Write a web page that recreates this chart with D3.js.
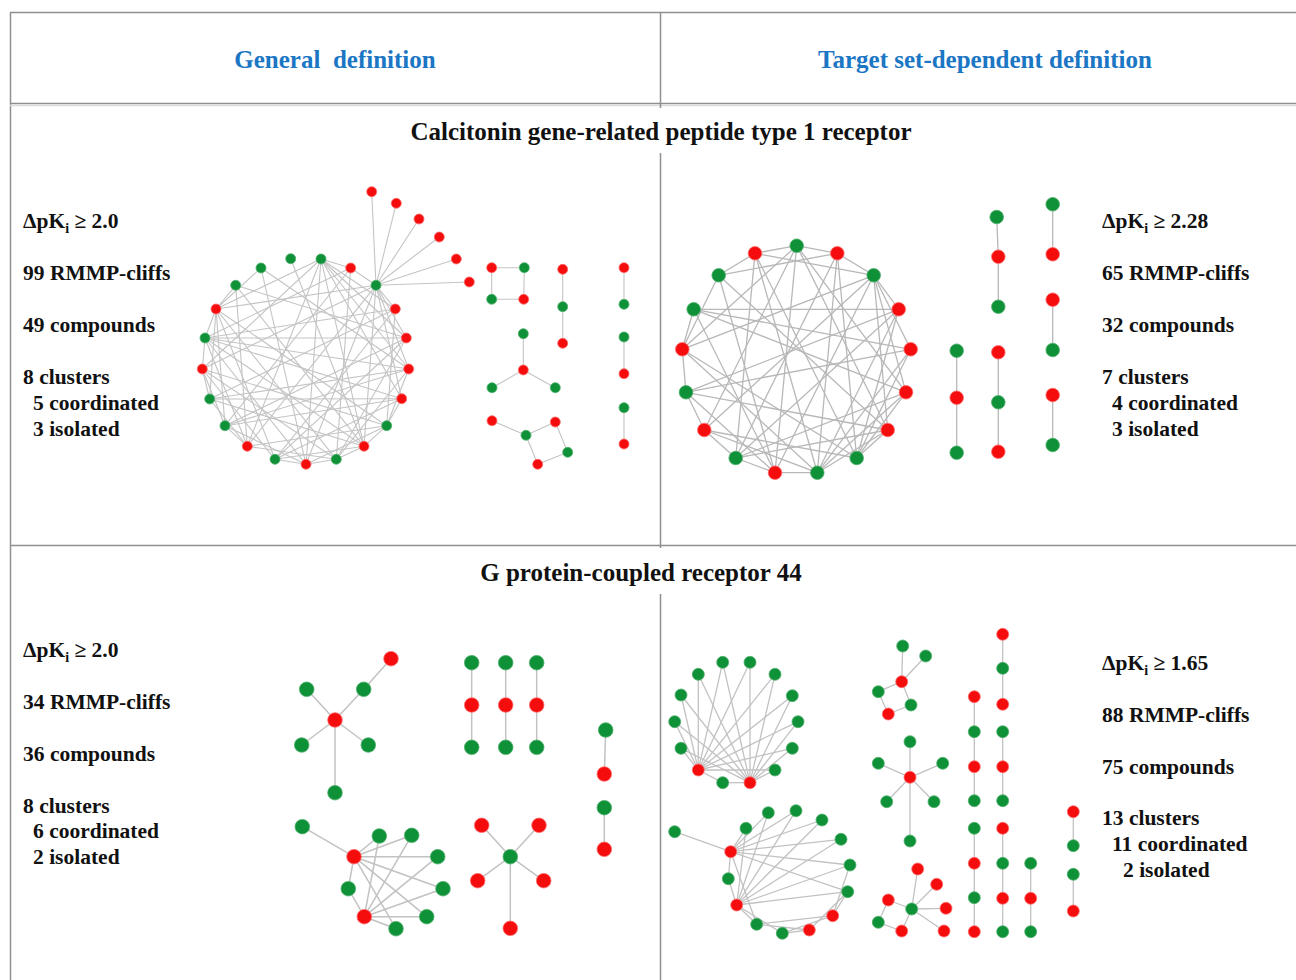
<!DOCTYPE html>
<html>
<head>
<meta charset="utf-8">
<script src="https://cdn.jsdelivr.net/npm/d3@7"></script>
<style>
body { margin: 0; background: #fff; }
text { font-family: "Liberation Serif", "Times New Roman", serif; font-weight: bold; }
</style>
</head>
<body>
<script>
// column headers and target titles
var headers = ["General  definition", "Target set-dependent definition"]
var targets = ["Calcitonin gene-related peptide type 1 receptor", "G protein-coupled receptor 44"]

// stats text per panel: threshold, cliffs, compounds, clusters, coordinated, isolated
var statsCgrpGen = ["2.0", "99 RMMP-cliffs", "49 compounds", "8 clusters", "5 coordinated", "3 isolated"]
var statsCgrpTsd = ["2.28", "65 RMMP-cliffs", "32 compounds", "7 clusters", "4 coordinated", "3 isolated"]
var statsGpr44Gen = ["2.0", "34 RMMP-cliffs", "36 compounds", "8 clusters", "6 coordinated", "2 isolated"]
var statsGpr44Tsd = ["1.65", "88 RMMP-cliffs", "75 compounds", "13 clusters", "11 coordinated", "2 isolated"]

// network layouts: [x, y, potency class] in layout units of each panel
var nodesCgrpGen = [
  [131,79,"G"],[160.7,88,"R"],[186,105.3,"G"],[205.3,129,"R"],[216.3,158,"R"],[218.7,189,"R"],
  [211.7,218.7,"R"],[196.7,245.7,"G"],[174,266.3,"R"],[146.3,279.3,"G"],[116,284.3,"R"],[85,279.3,"G"],
  [57.3,266.3,"R"],[35,245.7,"G"],[19.7,219,"G"],[12.3,189,"R"],[15,158,"G"],[26,129,"R"],
  [45.7,105.3,"G"],[71,88,"G"],[100.7,78.7,"G"],
  [181.7,11.7,"R"],[206.3,23.3,"R"],[229,39,"R"],[249.3,57,"R"],[266.3,79,"R"],[279.3,102,"R"],
  [301.7,87.7,"R"],[334.3,87.7,"G"],[301.7,119.3,"G"],[333.7,119.3,"R"],
  [372.7,89.3,"R"],[372.7,126.7,"G"],[372.7,163.3,"R"],
  [333.3,153.7,"G"],[333.3,190,"R"],[302,207.7,"G"],[365.3,207.7,"G"],
  [302,240.7,"R"],[336,255.3,"G"],[365.3,242,"R"],[377.7,272.3,"G"],[347.7,284.3,"R"],
  [434,87.7,"R"],[434,124.3,"G"],[434,157,"G"],[434,193.7,"R"],[434,227.7,"G"],[434,264,"R"]
]
var edgesCgrpGen = [
  [2,21],[2,22],[2,23],[2,24],[2,25],[2,26],
  [17,0],[17,2],[17,7],[17,9],[17,11],[17,13],[17,14],[17,16],[17,18],[17,19],
  [15,0],[15,2],[15,7],[15,9],[15,11],[15,13],[15,14],[15,16],
  [12,0],[12,2],[12,7],[12,9],[12,13],[12,14],[12,16],[12,18],
  [10,0],[10,2],[10,7],[10,9],[10,11],[10,13],[10,16],[10,19],
  [8,0],[8,2],[8,7],[8,9],[8,11],[8,14],[8,16],[8,18],[8,20],
  [6,0],[6,2],[6,7],[6,11],[6,13],[6,14],[6,16],
  [5,0],[5,2],[5,7],[5,9],[5,13],[5,14],[5,16],[5,19],
  [4,0],[4,2],[4,9],[4,11],[4,13],[4,16],[4,18],
  [3,0],[3,2],[3,7],[3,11],[3,14],[3,16],
  [1,0],[1,2],[1,9],[1,13],[1,16],
  [27,28],[27,29],[28,30],[29,30],
  [31,32],[32,33],
  [34,35],[35,36],[35,37],
  [38,39],[39,40],[40,41],[41,42],[42,39],
  [43,44],[45,46],[47,48]
]

var nodesCgrpTsd = [
  [126.7,45.7,"G"],[167.3,53.3,"R"],[203.7,75.3,"G"],[228.7,109.3,"R"],[240.7,149.3,"R"],[236,192.3,"R"],
  [217.7,230,"R"],[186.7,258,"G"],[147.3,272.7,"G"],[105,272.7,"R"],[65.7,258,"G"],[34.3,230,"R"],
  [16,192.3,"G"],[12.3,149.3,"R"],[23.7,109.3,"G"],[48.7,75.3,"G"],[85,53.3,"R"],
  [286.7,150.7,"G"],[286.7,197.7,"R"],[286.7,252.7,"G"],
  [326.7,17,"G"],[328.3,56.7,"R"],[328.3,106.7,"G"],
  [328.3,152.3,"R"],[328.3,202.3,"G"],[328.3,251.7,"R"],
  [382.7,4.3,"G"],[382.7,54.3,"R"],[382.7,99.7,"R"],[382.7,150,"G"],[382.7,195,"R"],[382.7,245,"G"]
]
var edgesCgrpTsd = [
  [1,0],[1,2],[1,7],[1,8],[1,10],[1,15],
  [3,2],[3,7],[3,8],[3,10],[3,12],[3,14],
  [4,2],[4,7],[4,8],[4,12],[4,14],
  [5,0],[5,2],[5,7],[5,8],[5,10],[5,14],
  [6,0],[6,2],[6,7],[6,8],[6,10],[6,12],[6,15],
  [9,0],[9,2],[9,8],[9,10],[9,12],[9,14],[9,15],
  [11,0],[11,2],[11,7],[11,8],[11,10],[11,12],
  [13,0],[13,2],[13,7],[13,8],[13,12],[13,14],[13,15],
  [16,0],[16,2],[16,7],[16,8],[16,10],[16,15],
  [17,18],[18,19],[20,21],[21,22],[23,24],[24,25],[26,27],[28,29],[30,31]
]

var nodesGpr44Gen = [
  [101,8.7,"R"],[73.7,39.3,"G"],[16.7,39.3,"G"],[45,70,"R"],[11.7,95,"G"],[78.3,95,"G"],[45,142.7,"G"],
  [181.7,12.7,"G"],[181.7,55,"R"],[181.7,97.3,"G"],
  [215.7,12.7,"G"],[215.7,55,"R"],[215.7,97.3,"G"],
  [246.7,12.7,"G"],[246.7,55,"R"],[246.7,97.3,"G"],
  [315.7,80,"G"],[314.3,124,"R"],[314.3,157.7,"G"],[314.3,199.3,"R"],
  [191.7,175.3,"R"],[249,175.3,"R"],[220.3,206.7,"G"],[187.7,230.7,"R"],[253.7,230.7,"R"],[220.3,278.3,"R"],
  [12.3,176.7,"G"],[64,206.7,"R"],[89.3,186,"G"],[121.7,185.3,"G"],[147.7,206.7,"G"],
  [153,238.7,"G"],[136.7,266.7,"G"],[106,278.7,"G"],[74.3,266.7,"R"],[58.3,238.7,"G"]
]
var edgesGpr44Gen = [
  [0,1],[1,3],[2,3],[3,4],[3,5],[3,6],
  [7,8],[8,9],[10,11],[11,12],[13,14],[14,15],
  [16,17],[18,19],
  [22,20],[22,21],[22,23],[22,24],[22,25],
  [27,26],[27,28],[27,29],[27,30],[27,31],[27,32],[27,33],[27,35],
  [34,35],[34,28],[34,29],[34,30],[34,31],[34,32],[34,33]
]

var nodesGpr44Tsd = [
  [62.7,42.3,"G"],[90,42.3,"G"],[38.3,54.3,"G"],[115,54.3,"G"],[21,75,"G"],[132.3,75.7,"G"],
  [14.7,101.7,"G"],[138,101.7,"G"],[21,128.3,"G"],[132.3,128.3,"G"],[38.3,150,"R"],[115,150,"G"],
  [62.7,162.7,"G"],[90,162.7,"R"],
  [14.7,211.7,"G"],[70.7,231.7,"R"],[86,208.3,"G"],[108.3,192.7,"G"],[136,190.7,"G"],[162,200,"G"],
  [181,219.3,"G"],[190,245,"G"],[187.7,271.7,"G"],[172.7,295.7,"R"],[149.3,310,"R"],[122.3,313.3,"G"],
  [96.7,304.3,"G"],[76.7,285,"R"],[68.3,258.7,"G"],
  [242.7,26,"G"],[265.7,36,"G"],[241.7,61.7,"R"],[218.3,71.7,"G"],[251,85,"G"],[228.3,94,"R"],
  [250,121.7,"G"],[218.3,143.3,"G"],[250,157.3,"R"],[282.7,143.3,"G"],[226.7,181.7,"G"],[274,181.7,"G"],[250,221,"G"],
  [257.7,249,"R"],[276.7,264.3,"R"],[228.3,280,"R"],[251.7,289,"G"],[286,288.3,"R"],[218.3,302.3,"G"],
  [241.7,311,"R"],[284,311,"R"],
  [314.3,76.7,"R"],[314.3,111.7,"G"],[314.3,146.7,"R"],[314.3,180.7,"G"],
  [314.3,208.3,"G"],[314.3,243.3,"R"],[314.3,277.7,"G"],[314.3,311.7,"R"],
  [342.7,14.3,"R"],[342.7,48.3,"G"],[342.7,84.3,"R"],[342.7,111.7,"G"],[342.7,146.7,"R"],
  [342.7,180.7,"G"],[342.7,208.3,"R"],[342.7,243.3,"G"],[342.7,278.3,"R"],[342.7,311.7,"G"],
  [370.7,243.3,"G"],[370.7,278.3,"R"],[370.7,311.7,"G"],
  [413.3,191.7,"R"],[413.3,225.7,"G"],[413.3,254.3,"G"],[413.3,291,"R"]
]
var edgesGpr44Tsd = [
  [10,0],[10,1],[10,2],[10,3],[10,4],[10,5],[10,6],[10,7],[10,8],[10,9],[10,11],[10,12],
  [13,0],[13,1],[13,2],[13,3],[13,4],[13,5],[13,6],[13,7],[13,8],[13,9],[13,11],[13,12],
  [15,14],[15,16],[15,17],[15,18],[15,19],[15,20],[15,21],[15,22],[15,28],[15,26],
  [27,16],[27,17],[27,18],[27,19],[27,20],[27,21],[27,22],[27,28],[27,26],[27,25],
  [23,22],[23,21],[23,25],[23,26],
  [24,25],[24,22],[24,26],
  [29,31],[30,31],[31,32],[31,33],[32,34],[34,33],
  [37,35],[37,36],[37,38],[37,39],[37,40],[37,41],
  [45,42],[45,43],[45,44],[45,46],[45,48],[45,49],[44,47],[47,48],
  [50,51],[51,52],[52,53],[54,55],[55,56],[56,57],
  [58,59],[59,60],[61,62],[62,63],[64,65],[65,66],[66,67],
  [68,69],[69,70],
  [71,72],[73,74]
]

WIDTH = 1296
HEIGHT = 980
RED = "#f50c0c"
GREEN = "#0f9138"
FRAME = "#8f8f8f"

var panels = [
  {nodes: nodesCgrpGen, edges: edgesCgrpGen, ox: 190, oy: 180, r: 5, edge: "#c4c4c4", ew: 1.1,
   stats: statsCgrpGen, tx: 23, ty: 228, indent: [10, 10], gap: [0, 52, 104, 156, 182, 208]},
  {nodes: nodesCgrpTsd, edges: edgesCgrpTsd, ox: 670, oy: 200, r: 6.8, edge: "#b8b8b8", ew: 1.3,
   stats: statsCgrpTsd, tx: 1102, ty: 228, indent: [10, 10], gap: [0, 52, 104, 156, 182, 208]},
  {nodes: nodesGpr44Gen, edges: edgesGpr44Gen, ox: 290, oy: 650, r: 7.3, edge: "#c2c2c2", ew: 1.5,
   stats: statsGpr44Gen, tx: 23, ty: 657, indent: [10, 10], gap: [0, 52, 104, 156, 181, 207]},
  {nodes: nodesGpr44Tsd, edges: edgesGpr44Tsd, ox: 660, oy: 620, r: 6, edge: "#c2c2c2", ew: 1.3,
   stats: statsGpr44Tsd, tx: 1102, ty: 670, indent: [10, 21], gap: [0, 52, 104, 155, 181, 207]}
]

var svg = d3.select("body").append("svg")
  .attr("width", WIDTH)
  .attr("height", HEIGHT)

// table frame
var frame = svg.append("g").attr("stroke", FRAME).attr("stroke-width", 1.5)
frame.append("line").attr("x1", 10).attr("x2", WIDTH).attr("y1", 12.5).attr("y2", 12.5)
frame.append("line").attr("x1", 10.5).attr("x2", 10.5).attr("y1", 12).attr("y2", HEIGHT)
frame.append("line").attr("x1", 10).attr("x2", WIDTH).attr("y1", 103.5).attr("y2", 103.5)
frame.append("line").attr("x1", 10).attr("x2", WIDTH).attr("y1", 105.5).attr("y2", 105.5)
  .attr("stroke", "#dcdcdc").attr("stroke-width", 1.5)
frame.append("line").attr("x1", 10).attr("x2", WIDTH).attr("y1", 545.5).attr("y2", 545.5)
frame.append("line").attr("x1", 660.5).attr("x2", 660.5).attr("y1", 12).attr("y2", 108)
frame.append("line").attr("x1", 660.5).attr("x2", 660.5).attr("y1", 153).attr("y2", 548)
frame.append("line").attr("x1", 660.5).attr("x2", 660.5).attr("y1", 594).attr("y2", HEIGHT)

// headers
svg.selectAll(".header").data(headers).enter().append("text")
  .attr("class", "header")
  .attr("x", function(d, i) { return i === 0 ? 335 : 985 })
  .attr("y", 68)
  .attr("text-anchor", "middle")
  .attr("fill", "#1b76c4")
  .attr("font-size", "25px")
  .style("white-space", "pre")
  .text(function(d) { return d })

svg.selectAll(".target").data(targets).enter().append("text")
  .attr("class", "target")
  .attr("x", function(d, i) { return i === 0 ? 661 : 641 })
  .attr("y", function(d, i) { return i === 0 ? 140 : 581 })
  .attr("text-anchor", "middle")
  .attr("fill", "#111")
  .attr("font-size", "25px")
  .text(function(d) { return d })

function drawPanel(p)
{
  var x = d3.scaleLinear().domain([0, 500]).range([p.ox, p.ox + 500])
  var y = d3.scaleLinear().domain([0, 400]).range([p.oy, p.oy + 400])
  var g = svg.append("g")
  g.selectAll("line").data(p.edges).enter().append("line")
    .attr("x1", function(e) { return x(p.nodes[e[0]][0]) })
    .attr("y1", function(e) { return y(p.nodes[e[0]][1]) })
    .attr("x2", function(e) { return x(p.nodes[e[1]][0]) })
    .attr("y2", function(e) { return y(p.nodes[e[1]][1]) })
    .attr("stroke", p.edge)
    .attr("stroke-width", p.ew)
  g.selectAll("circle").data(p.nodes).enter().append("circle")
    .attr("cx", function(n) { return x(n[0]) })
    .attr("cy", function(n) { return y(n[1]) })
    .attr("r", p.r)
    .attr("fill", function(n) { return n[2] === "R" ? RED : GREEN })
    .attr("stroke", function(n) { return n[2] === "R" ? "#ff6b6b" : "#4fae6c" })
    .attr("stroke-width", 0.8)

  // stats block
  var t = svg.append("g").attr("fill", "#111").attr("font-size", "21.5px")
  var first = t.append("text").attr("x", p.tx).attr("y", p.ty + p.gap[0])
  first.append("tspan").text("\u0394pK")
  first.append("tspan").attr("font-size", "14px").attr("dy", 5).text("i")
  first.append("tspan").attr("dy", -5).text(" \u2265 " + p.stats[0])
  for (var i = 1; i < p.stats.length; i++)
  {
    var dx = i === 4 ? p.indent[0] : (i === 5 ? p.indent[1] : 0)
    t.append("text").attr("x", p.tx + dx).attr("y", p.ty + p.gap[i]).text(p.stats[i])
  }
}

panels.forEach(drawPanel)
</script>
</body>
</html>
